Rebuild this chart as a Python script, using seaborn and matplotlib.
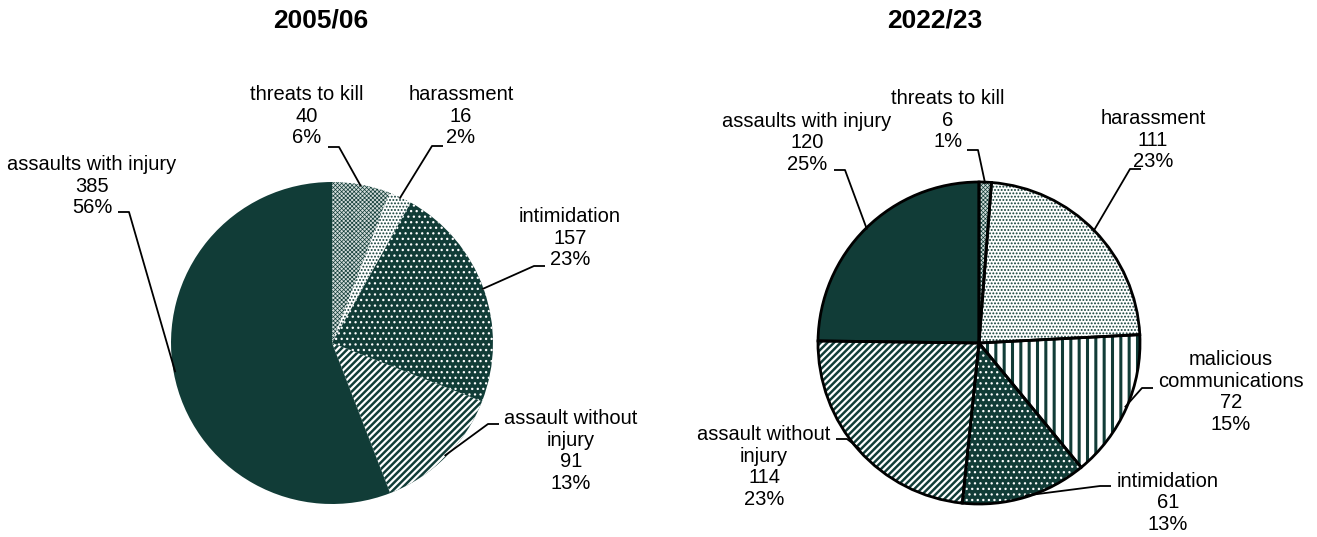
import numpy as np
import matplotlib
matplotlib.use("Agg")
import matplotlib.pyplot as plt
import seaborn as sns

# ---------------- data ----------------
titles = ["2005/06", "2022/23"]

cats_0506 = ["threats to kill", "harassment", "intimidation",
             "assault without\ninjury", "assaults with injury"]
vals_0506 = [40, 16, 157, 91, 385]
pcts_0506 = ["6%", "2%", "23%", "13%", "56%"]

cats_2223 = ["threats to kill", "harassment", "malicious\ncommunications",
             "intimidation", "assault without\ninjury", "assaults with injury"]
vals_2223 = [6, 111, 72, 61, 114, 120]
pcts_2223 = ["1%", "23%", "15%", "13%", "23%", "25%"]

# ---------------- style ----------------
sns.set_theme(style="white")
plt.rcParams["font.family"] = ["Liberation Sans", "DejaVu Sans"]

DARK = "#113c37"
W, H = 1317, 537

# category -> (face, hatch colour, hatch, hatch linewidth)
styles = {
    "threats to kill": ("#d3dcda", DARK, "xxxxxxxx", 0.5),
    "harassment": ("white", DARK, ".....", 0.9),
    "intimidation": (DARK, "white", "...", 0.9),
    "malicious\ncommunications": ("white", DARK, "||", 2.2),
    "assault without\ninjury": (DARK, "white", "/////", 1.6),
    "assaults with injury": (DARK, DARK, "", 1.0),
}

fig = plt.figure(figsize=(W / 100, H / 100), dpi=100)
ax = fig.add_axes([0, 0, 1, 1])


def Y(y):
    return H - y


# layout: pie centre / radius in pixels, label text centre, elbow, stub direction
layouts = [
    dict(center=(332, 343), r=161, title_x=321, edge=None,
         labels=[((307, 116), (339, 147), -1),
                 ((461, 116), (432, 146), +1),
                 ((570, 238), (534, 266), +1),
                 ((571, 451), (488, 424), +1),
                 ((92, 186), (129, 212), -1)]),
    dict(center=(979, 343), r=161, title_x=935, edge="black",
         labels=[((948, 120), (978, 150), -1),
                 ((1153, 140), (1130, 169), +1),
                 ((1231, 392), (1142, 388), +1),
                 ((1168, 503), (1100, 486), +1),
                 ((764, 467), (847, 439), -1),
                 ((807, 143), (845, 170), -1)]),
]

datasets = [(cats_0506, vals_0506, pcts_0506), (cats_2223, vals_2223, pcts_2223)]

for (cats, vals, pcts), lay, title in zip(datasets, layouts, titles):
    cx, cy = lay["center"]
    r = lay["r"]
    faces = [styles[c][0] for c in cats]
    wedges, _ = ax.pie(vals, colors=faces, startangle=90, counterclock=False,
                       center=(cx, Y(cy)), radius=r,
                       wedgeprops=dict(linewidth=0))
    for w, c in zip(wedges, cats):
        face, hc, hatch, hlw = styles[c]
        w.set_edgecolor(hc)
        if hasattr(w, "set_hatchcolor"):
            w.set_hatchcolor(hc)
        if hasattr(w, "set_hatch_linewidth"):
            w.set_hatch_linewidth(hlw)
        if hatch:
            w.set_hatch(hatch)
        w.set_linewidth(0)
    if lay["edge"]:
        ax.pie(vals, startangle=90, counterclock=False, center=(cx, Y(cy)),
               radius=r, wedgeprops=dict(fill=False, edgecolor="black",
                                         linewidth=2))
    # labels with leader lines
    for w, c, v, p, (tpos, elbow, sdir) in zip(wedges, cats, vals, pcts, lay["labels"]):
        mid = np.deg2rad((w.theta1 + w.theta2) / 2)
        ax_ = cx + r * 0.99 * np.cos(mid)
        ay_ = Y(cy) + r * 0.99 * np.sin(mid)
        ex, ey = elbow
        ax.plot([ax_, ex, ex + sdir * 11], [ay_, Y(ey), Y(ey)],
                color="black", lw=1.3, solid_capstyle="butt", zorder=5)
        ax.text(tpos[0], Y(tpos[1]), f"{c}\n{v}\n{p}", ha="center",
                va="center", fontsize=14.5, linespacing=1.18, color="black")
    ax.text(lay["title_x"], Y(20), title, ha="center", va="center",
            fontsize=19, fontweight="bold", color="black")

ax.set_xlim(0, W)
ax.set_ylim(0, H)
ax.set_aspect("equal")
ax.axis("off")

fig.savefig("out.png", dpi=100, facecolor="white")
